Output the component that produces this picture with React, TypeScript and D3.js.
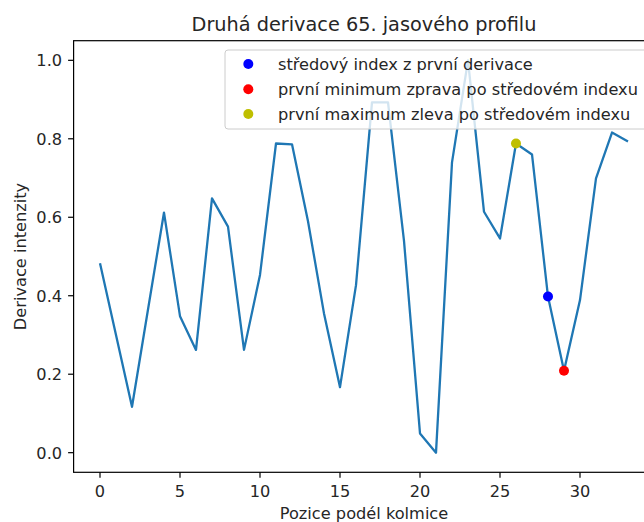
import React from "react";
import * as d3 from "d3";

// Second derivative of the 65th intensity profile
const positions: number[] = d3.range(34);
const derivative: number[] = [
  0.483, 0.3, 0.117, 0.365, 0.612, 0.348, 0.262, 0.648, 0.576, 0.262,
  0.453, 0.788, 0.786, 0.59, 0.355, 0.167, 0.427, 0.893, 0.893, 0.54,
  0.049, 0.0, 0.74, 1.0, 0.614, 0.546, 0.788, 0.76, 0.398, 0.209,
  0.389, 0.699, 0.816, 0.793,
];

// Highlighted indices
const markerLabels: string[] = [
  "středový index z první derivace",
  "první minimum zprava po středovém indexu",
  "první maximum zleva po středovém indexu",
];
const markerIndices: number[] = [28, 29, 26];
const markerColors: string[] = ["#0000ff", "#ff0000", "#bfbf00"];

const xTicks: number[] = [0, 5, 10, 15, 20, 25, 30];
const yTicks: number[] = [0.0, 0.2, 0.4, 0.6, 0.8, 1.0];

const W = 644;
const H = 522;
const FONT = "DejaVu Sans, sans-serif";
const FS = 16.2;

export default function App() {
  const xMin = d3.min(positions)!;
  const xMax = d3.max(positions)!;
  const yMin = d3.min(derivative)!;
  const yMax = d3.max(derivative)!;
  const xPad = (xMax - xMin) * 0.05;
  const yPad = (yMax - yMin) * 0.05;

  const left = 73.6;
  const right = 654.4;
  const top = 40.7;
  const bottom = 472.3;

  const x = d3.scaleLinear().domain([xMin - xPad, xMax + xPad]).range([left, right]);
  const y = d3.scaleLinear().domain([yMin - yPad, yMax + yPad]).range([bottom, top]);

  const line = d3
    .line<number>()
    .x((_, i) => x(positions[i]))
    .y((d) => y(d));

  const cx = (left + right) / 2;
  const cy = (top + bottom) / 2;

  // legend box
  const lgX = 225;
  const lgY = 50;
  const lgW = 422;
  const lgH = 79;
  const rowY = [64, 89.3, 114];

  return (
    <svg
      width={W}
      height={H}
      style={{ position: "absolute", left: 0, top: 0, background: "#fff" }}
      fontFamily={FONT}
    >
      <defs>
        <clipPath id="plot-area">
          <rect x={left} y={top} width={right - left} height={bottom - top} />
        </clipPath>
      </defs>
      <rect x={0} y={0} width={W} height={H} fill="#fff" />

      {/* title */}
      <text x={cx} y={30.5} textAnchor="middle" fontSize={19.3} fill="#262626">
        Druhá derivace 65. jasového profilu
      </text>

      {/* data line and markers */}
      <g clipPath="url(#plot-area)">
        <path
          d={line(derivative) ?? ""}
          fill="none"
          stroke="#1f77b4"
          strokeWidth={2.3}
          strokeLinejoin="round"
          strokeLinecap="butt"
        />
        {markerIndices.map((idx, k) => (
          <circle
            key={k}
            cx={x(positions[idx])}
            cy={y(derivative[idx])}
            r={5}
            fill={markerColors[k]}
          />
        ))}
      </g>

      {/* spines */}
      <rect
        x={left}
        y={top}
        width={right - left}
        height={bottom - top}
        fill="none"
        stroke="#000"
        strokeWidth={1.2}
      />

      {/* x ticks */}
      {xTicks.map((t) => (
        <g key={`x${t}`}>
          <line x1={x(t)} x2={x(t)} y1={bottom} y2={bottom + 5.5} stroke="#000" strokeWidth={1.2} />
          <text x={x(t)} y={497} textAnchor="middle" fontSize={FS} fill="#262626">
            {t}
          </text>
        </g>
      ))}

      {/* y ticks */}
      {yTicks.map((t) => (
        <g key={`y${t}`}>
          <line x1={left - 5.5} x2={left} y1={y(t)} y2={y(t)} stroke="#000" strokeWidth={1.2} />
          <text
            x={left - 11.5}
            y={y(t)}
            dy="0.36em"
            textAnchor="end"
            fontSize={FS}
            fill="#262626"
          >
            {t.toFixed(1)}
          </text>
        </g>
      ))}

      {/* axis labels */}
      <text x={cx} y={519} textAnchor="middle" fontSize={FS} fill="#262626">
        Pozice podél kolmice
      </text>
      <text
        transform={`translate(26, ${cy}) rotate(-90)`}
        textAnchor="middle"
        fontSize={FS}
        fill="#262626"
      >
        Derivace intenzity
      </text>

      {/* legend */}
      <g>
        <rect
          x={lgX}
          y={lgY}
          width={lgW}
          height={lgH}
          rx={3}
          fill="#fff"
          fillOpacity={0.8}
          stroke="#cccccc"
          strokeWidth={1}
        />
        {markerLabels.map((lab, k) => (
          <g key={lab}>
            <circle cx={248.3} cy={rowY[k]} r={5} fill={markerColors[k]} />
            <text x={278} y={rowY[k]} dy="0.36em" fontSize={FS} fill="#262626">
              {lab}
            </text>
          </g>
        ))}
      </g>
    </svg>
  );
}
